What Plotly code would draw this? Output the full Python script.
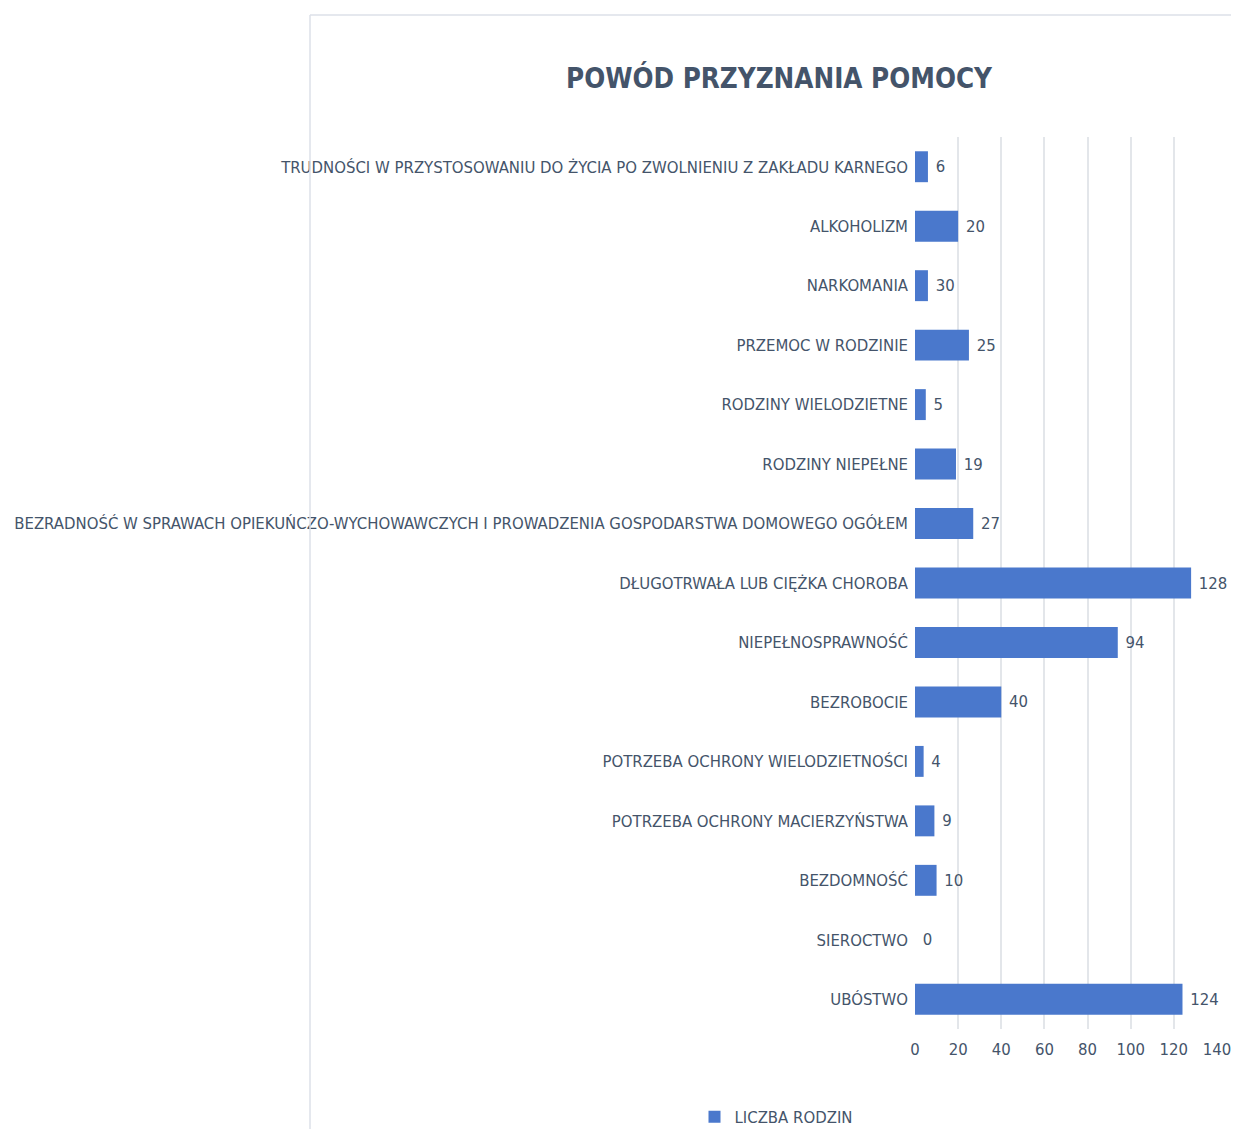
import plotly.graph_objects as go

categories = [
    "TRUDNOŚCI W PRZYSTOSOWANIU DO ŻYCIA PO ZWOLNIENIU Z ZAKŁADU KARNEGO",
    "ALKOHOLIZM",
    "NARKOMANIA",
    "PRZEMOC W RODZINIE",
    "RODZINY WIELODZIETNE",
    "RODZINY NIEPEŁNE",
    "BEZRADNOŚĆ W SPRAWACH OPIEKUŃCZO-WYCHOWAWCZYCH I PROWADZENIA GOSPODARSTWA DOMOWEGO OGÓŁEM",
    "DŁUGOTRWAŁA LUB CIĘŻKA CHOROBA",
    "NIEPEŁNOSPRAWNOŚĆ",
    "BEZROBOCIE",
    "POTRZEBA OCHRONY WIELODZIETNOŚCI",
    "POTRZEBA OCHRONY MACIERZYŃSTWA",
    "BEZDOMNOŚĆ",
    "SIEROCTWO",
    "UBÓSTWO",
]
# bar lengths as drawn
values = [6, 20, 6, 25, 5, 19, 27, 128, 94, 40, 4, 9, 10, 0, 124]
# data labels as printed
label_text = ["6", "20", "30", "25", "5", "19", "27", "128", "94", "40", "4", "9", "10", "0", "124"]
x_ticks = [0, 20, 40, 60, 80, 100, 120, 140]
series_name = "LICZBA RODZIN"
title_text = "POWÓD PRZYZNANIA POMOCY"

OFF = 8  # page body margin
W, H = 1239 - OFF, 1129 - OFF
L, R, T, B = 915 - OFF, 22, 137 - OFF, 100
TXT = "#44546A"
FONT = "DejaVu Sans Condensed, Liberation Sans Narrow, sans-serif"
FS = 16.6

fig = go.Figure()
fig.add_trace(go.Bar(
    y=categories, x=values, orientation="h", name=series_name,
    marker=dict(color="#4A78CC", line=dict(width=0)),
    text=label_text, texttemplate=" %{text}", textposition="outside", cliponaxis=False,
    textfont=dict(color=TXT, size=FS, family=FONT),
    showlegend=True,
))

pw = W - L - R
ph = H - T - B
def px_x(px):
    return (px - OFF - L) / pw
def px_y(py):
    return (H - B - (py - OFF)) / ph

fig.add_shape(type="line", xref="paper", yref="paper",
              x0=px_x(310), x1=px_x(310), y0=px_y(15), y1=px_y(1129 + 20),
              line=dict(color="#DCE1E8", width=1.5))
fig.add_shape(type="line", xref="paper", yref="paper",
              x0=px_x(310), x1=px_x(1239 + 20), y0=px_y(15), y1=px_y(15),
              line=dict(color="#DCE1E8", width=1.5))

fig.update_layout(
    width=W, height=H,
    margin=dict(l=L, r=R, t=T, b=B, autoexpand=False),
    paper_bgcolor="white", plot_bgcolor="white",
    bargap=0.48,
    font=dict(family=FONT, color=TXT, size=FS),
    title=dict(text="<b>" + title_text + "</b>", x=(779 - OFF) / W, xref="container", xanchor="center",
               y=1 - (78 - OFF) / H, yref="container", yanchor="middle",
               font=dict(size=27.5, color=TXT, family=FONT)),
    xaxis=dict(range=[0, 140], tickvals=x_ticks, showgrid=True, gridcolor="#E3E6EA", gridwidth=2,
               zeroline=False, showline=False, ticks="", ticklabelstandoff=8,
               tickfont=dict(size=FS, color=TXT, family=FONT)),
    yaxis=dict(autorange="reversed", showgrid=False, zeroline=False, showline=False, ticks="",
               ticklabelstandoff=6,
               tickfont=dict(size=FS, color=TXT, family=FONT)),
    legend=dict(orientation="h", x=(776 - OFF) / W, xref="container", xanchor="center",
                y=1 - (1117 - OFF) / H, yref="container", yanchor="middle",
                font=dict(size=FS, color=TXT, family=FONT), itemwidth=30),
)

fig.write_html("out.html")
